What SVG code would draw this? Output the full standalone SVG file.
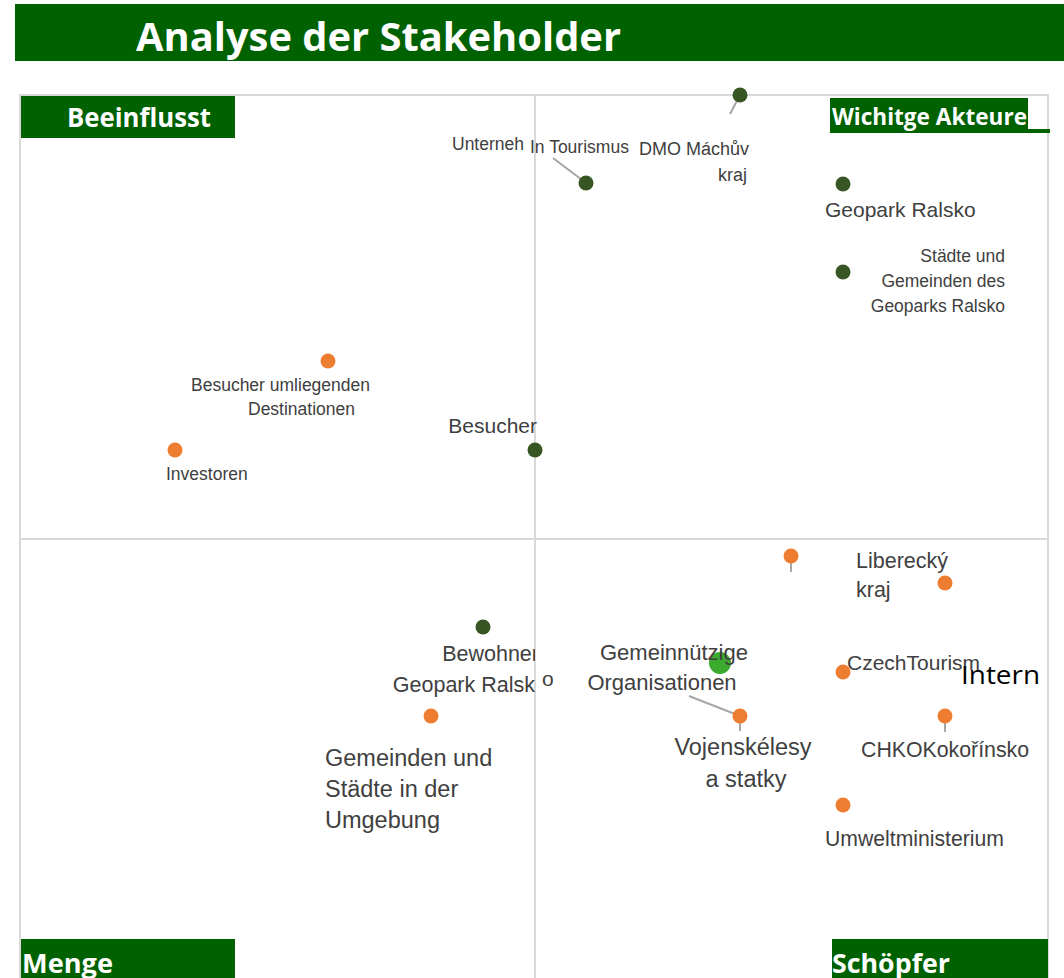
<svg xmlns="http://www.w3.org/2000/svg" width="1064" height="978" viewBox="0 0 1064 978">
<style>
.hdr{fill:#ffffff;font-family:"Open Sans","Noto Sans",sans-serif;font-weight:700}
.box{fill:#006100}
.lbl{fill:#404040;font-family:"Liberation Sans",Arial,sans-serif}
.dg{fill:#375623}
.or{fill:#ed7d31}
.bg{fill:#3caa2f}
.lead{stroke:#a6a6a6;stroke-width:2;fill:none}
.grid{stroke:#d9d9d9;stroke-width:2;fill:none}
</style>
<defs>
<clipPath id="leftHalf"><rect x="0" y="600" width="535" height="120"/></clipPath>
</defs>
<rect width="1064" height="978" fill="#ffffff"/>
<g id="title">
<rect class="box" x="15" y="4" width="1049" height="57"/>
<text class="hdr" x="136" y="51" font-size="40" textLength="485" lengthAdjust="spacingAndGlyphs">Analyse der Stakeholder</text>
</g>
<g id="grid">
<rect class="grid" x="20" y="95" width="1028" height="900"/>
<line class="grid" x1="535" y1="95" x2="535" y2="978"/>
<line class="grid" x1="20" y1="539" x2="1048" y2="539"/>
</g>
<g id="quadrant-labels">
<g id="q-beeinflusst">
<rect class="box" x="21" y="96" width="214" height="42"/>
<text class="hdr" x="67" y="127" font-size="27" textLength="144" lengthAdjust="spacingAndGlyphs">Beeinflusst</text>
</g>
<g id="q-wichtige">
<rect class="box" x="830" y="98" width="198" height="35"/>
<rect class="box" x="1028" y="129" width="22" height="4"/>
<text class="hdr" x="832" y="125" font-size="23" textLength="195" lengthAdjust="spacingAndGlyphs">Wichitge Akteure</text>
</g>
<g id="q-menge">
<rect class="box" x="21" y="939" width="214" height="39"/>
<text class="hdr" x="22" y="973" font-size="27" textLength="91" lengthAdjust="spacingAndGlyphs">Menge</text>
</g>
<g id="q-schoepfer">
<rect class="box" x="832" y="939" width="216" height="39"/>
<text class="hdr" x="832" y="973" font-size="27" textLength="118" lengthAdjust="spacingAndGlyphs">Schöpfer</text>
</g>
</g>
<g id="connectors">
<line class="lead" x1="740" y1="95" x2="730" y2="114"/>
<line class="lead" x1="586" y1="183" x2="553" y2="158"/>
<line class="lead" x1="791" y1="556" x2="791" y2="572"/>
<line class="lead" x1="740" y1="716" x2="740" y2="731"/>
<line class="lead" x1="689" y1="696" x2="740" y2="716"/>
<line class="lead" x1="945" y1="716" x2="945" y2="732"/>
</g>
<g id="n-dmo">
<circle class="dg" cx="740" cy="95" r="7.5"/>
<text class="lbl" font-size="18" text-anchor="end"><tspan x="749" y="155">DMO Máchův</tspan><tspan x="747" y="181">kraj</tspan></text>
</g>
<g id="n-unternehmen">
<circle class="dg" cx="586" cy="183" r="7.5"/>
<text class="lbl" x="452" y="150" font-size="17.5">Unterneh</text>
<text class="lbl" x="530" y="153" font-size="17.5">In Tourismus</text>
</g>
<g id="n-geopark">
<circle class="dg" cx="843" cy="184" r="7.5"/>
<text class="lbl" x="825" y="217" font-size="21">Geopark Ralsko</text>
</g>
<g id="n-staedte">
<circle class="dg" cx="843" cy="272" r="7.5"/>
<text class="lbl" font-size="17.5" text-anchor="end"><tspan x="1005" y="262">Städte und</tspan><tspan x="1005" y="287">Gemeinden des</tspan><tspan x="1005" y="312">Geoparks Ralsko</tspan></text>
</g>
<g id="n-besucher-umliegend">
<circle class="or" cx="328" cy="361" r="7.5"/>
<text class="lbl" font-size="17.5"><tspan x="191" y="391">Besucher umliegenden</tspan><tspan x="248" y="415">Destinationen</tspan></text>
</g>
<g id="n-investoren">
<circle class="or" cx="175" cy="450" r="7.5"/>
<text class="lbl" x="166" y="480" font-size="17.5">Investoren</text>
</g>
<g id="n-besucher">
<circle class="dg" cx="535" cy="450" r="7.5"/>
<text class="lbl" x="537" y="433" font-size="21" text-anchor="end">Besucher</text>
</g>
<g id="n-liberecky">
<circle class="or" cx="791" cy="556" r="7.5"/>
<circle class="or" cx="945" cy="583" r="7.5"/>
<text class="lbl" font-size="21.5"><tspan x="856" y="568">Liberecký</tspan><tspan x="856" y="597">kraj</tspan></text>
</g>
<g id="n-bewohner">
<circle class="dg" cx="483" cy="627" r="7.5"/>
<g clip-path="url(#leftHalf)">
<text class="lbl" font-size="21.5" text-anchor="end"><tspan x="539" y="661">Bewohner</tspan><tspan x="535" y="692">Geopark Ralsk</tspan></text>
</g>
<text class="lbl" x="542" y="686" font-size="21">o</text>
</g>
<g id="n-gemeinnuetzige">
<circle class="bg" cx="720" cy="663" r="11"/>
<text class="lbl" font-size="22" text-anchor="middle"><tspan x="674" y="660">Gemeinnützige</tspan><tspan x="662" y="690">Organisationen</tspan></text>
</g>
<g id="n-czechtourism">
<circle class="or" cx="843" cy="672" r="7.5"/>
<text class="lbl" x="847" y="670" font-size="21">CzechTourism</text>
</g>
<g id="n-intern">
<text x="961" y="684" font-size="25" fill="#000000" font-family="'Open Sans','Noto Sans',sans-serif" textLength="79" lengthAdjust="spacingAndGlyphs">Intern</text>
</g>
<g id="n-gemeinden">
<circle class="or" cx="431" cy="716" r="7.5"/>
<text class="lbl" font-size="23.5"><tspan x="325" y="766">Gemeinden und</tspan><tspan x="325" y="797">Städte in der</tspan><tspan x="325" y="828">Umgebung</tspan></text>
</g>
<g id="n-vojenske">
<circle class="or" cx="740" cy="716" r="7.5"/>
<text class="lbl" font-size="23.5" text-anchor="middle"><tspan x="743" y="755">Vojenskélesy</tspan><tspan x="746" y="787">a statky</tspan></text>
</g>
<g id="n-chko">
<circle class="or" cx="945" cy="716" r="7.5"/>
<text class="lbl" x="861" y="757" font-size="21.3">CHKOKokořínsko</text>
</g>
<g id="n-umwelt">
<circle class="or" cx="843" cy="805" r="7.5"/>
<text class="lbl" x="825" y="846" font-size="21.2">Umweltministerium</text>
</g>
</svg>
